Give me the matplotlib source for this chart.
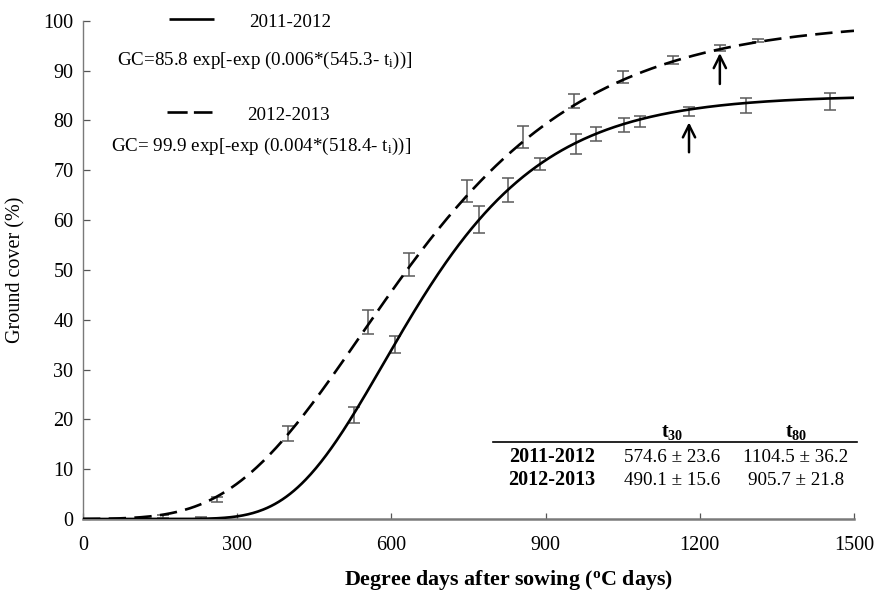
import numpy as np
import matplotlib
matplotlib.use("Agg")
import matplotlib.pyplot as plt
from matplotlib.lines import Line2D

plt.rcParams['font.family'] = ['Liberation Serif', 'DejaVu Serif']
plt.rcParams['mathtext.fontset'] = 'custom'
plt.rcParams['mathtext.rm'] = 'Liberation Serif'
plt.rcParams['mathtext.it'] = 'Liberation Serif:italic'
plt.rcParams['mathtext.bf'] = 'Liberation Serif:bold'
plt.rcParams['lines.scale_dashes'] = False

# ---------------- data ----------------
seasons = ["2011-2012", "2012-2013"]

t_2011 = [229, 528, 607, 770, 826, 890, 960, 999, 1053, 1083, 1179, 1289, 1453]
gc_2011 = [0.2, 20.8, 35.1, 60.1, 66.0, 71.2, 75.3, 77.2, 79.0, 79.8, 81.8, 83.0, 83.8]
err_2011 = [0.3, 1.6, 1.7, 2.8, 2.4, 1.2, 2.0, 1.4, 1.4, 1.1, 0.9, 1.5, 1.7]

t_2012 = [155, 261, 399, 555, 635, 747, 856, 956, 1050, 1148, 1239, 1313]
gc_2012 = [0.6, 4.0, 17.2, 39.5, 51.1, 65.8, 76.6, 83.8, 88.7, 92.2, 94.5, 96.1]
err_2012 = [0.3, 0.5, 1.5, 2.4, 2.3, 2.2, 2.2, 1.4, 1.2, 0.8, 0.6, 0.3]

# Gompertz curves as drawn in the figure: A, b, c  ->  A*exp(-exp(b*(c-t)))
curve_2011 = (85.0, 0.0057, 585.0)
curve_2012 = (100.0, 0.00405, 540.0)

equation_labels = ["GC=85.8 exp[-exp (0.006*(545.3- t$_{\\rm i}$))]",
                   "GC= 99.9 exp[-exp (0.004*(518.4- t$_{\\rm i}$))]"]

# arrows (x, y_tail, y_tip)
arrow_2011 = (1179, 73.6, 79.6)
arrow_2012 = (1239, 87.3, 93.5)

# table
table_cols = ["$\\mathbf{t_{30}}$", "$\\mathbf{t_{80}}$"]
table_rows = ["2011-2012", "2012-2013"]
table_vals = [["574.6 ± 23.6", "1104.5 ± 36.2"],
              ["490.1 ± 15.6", "905.7 ± 21.8"]]

x_ticks = [0, 300, 600, 900, 1200, 1500]
y_ticks = [0, 10, 20, 30, 40, 50, 60, 70, 80, 90, 100]

# ---------------- figure ----------------
W, H = 877, 593
fig = plt.figure(figsize=(W / 100, H / 100), dpi=100)


def fx(x):
    return x / W


def fy(y):
    return 1 - y / H


ax = fig.add_axes([fx(83), fy(519), (854 - 83) / W, (519 - 20.7) / H])

def gompertz(t, p):
    A, b, c = p
    return A * np.exp(-np.exp(b * (c - t)))

tt = np.linspace(0, 1500, 600)

DASH = (12.5, 6.0)
ax.errorbar(t_2011, gc_2011, yerr=err_2011, fmt='none', ecolor='#5a5a5a',
            elinewidth=1.1, capsize=4.3, capthick=1.1, zorder=2)
ax.errorbar(t_2012, gc_2012, yerr=err_2012, fmt='none', ecolor='#5a5a5a',
            elinewidth=1.1, capsize=4.3, capthick=1.1, zorder=2)
ax.plot(tt, gompertz(tt, curve_2011), color='black', lw=1.9, zorder=3,
        solid_capstyle='butt')
ax.plot(tt, gompertz(tt, curve_2012), color='black', lw=1.9, zorder=3,
        dashes=DASH, dash_capstyle='butt')

for (xa, y0, y1) in (arrow_2011, arrow_2012):
    ax.annotate('', xy=(xa, y1), xytext=(xa, y0),
                arrowprops=dict(arrowstyle='->', lw=1.8, color='black',
                                mutation_scale=22, shrinkA=0, shrinkB=0))

ax.set_xlim(0, 1500)
ax.set_ylim(0, 100)
ax.set_xticks(x_ticks)
ax.set_yticks(y_ticks)
ax.spines['top'].set_visible(False)
ax.spines['right'].set_visible(False)
ax.spines['left'].set_color('#7a7a7a')
ax.spines['left'].set_linewidth(1.0)
ax.spines['bottom'].set_color('#7a7a7a')
ax.spines['bottom'].set_linewidth(1.8)
ax.tick_params(axis='both', direction='in', colors='#555555',
               labelcolor='black', labelsize=14.5, width=0.9)
ax.tick_params(axis='x', length=4, pad=12)
ax.tick_params(axis='y', length=5, pad=7)

ax.set_ylabel("Ground cover (%)", fontsize=14.5)
ax.yaxis.set_label_coords(fx(25 - 83) / ((854 - 83) / W), 0.5)
fig.text(fx(508), fy(580), "Degree days after sowing ($^{\\mathbf{o}}$C days)",
         fontsize=15.8, fontweight='bold', ha='center', va='center')

# ---------------- legend (manual) ----------------
fig.add_artist(Line2D([fx(169), fx(214)], [fy(19), fy(19)], color='black',
                      lw=1.9, solid_capstyle='butt'))
fig.add_artist(Line2D([fx(167), fx(212)], [fy(112), fy(112)], color='black',
                      lw=1.9, dashes=(14.5, 4.5), dash_capstyle='butt'))
fig.text(fx(249), fy(27), seasons[0], fontsize=13.7, ha='left', va='baseline')
fig.text(fx(247), fy(120), seasons[1], fontsize=13.7, ha='left', va='baseline')
fig.text(fx(117), fy(65), equation_labels[0], fontsize=13.7, ha='left', va='baseline')
fig.text(fx(111), fy(151), equation_labels[1], fontsize=13.7, ha='left', va='baseline')

# ---------------- table ----------------
fig.add_artist(Line2D([fx(493), fx(857)], [fy(442), fy(442)], color='black', lw=1.2))
col_x = [672, 796]
for cx, lab in zip(col_x, table_cols):
    fig.text(fx(cx), fy(437), lab, fontsize=14.5, ha='center', va='baseline')
row_y = [462, 485]
for ry, rlab, vals in zip(row_y, table_rows, table_vals):
    fig.text(fx(552), fy(ry), rlab, fontsize=14.5, fontweight='bold',
             ha='center', va='baseline')
    for cx, v in zip(col_x, vals):
        fig.text(fx(cx), fy(ry), v, fontsize=13.7, ha='center', va='baseline')

fig.savefig("out.png", dpi=100)
